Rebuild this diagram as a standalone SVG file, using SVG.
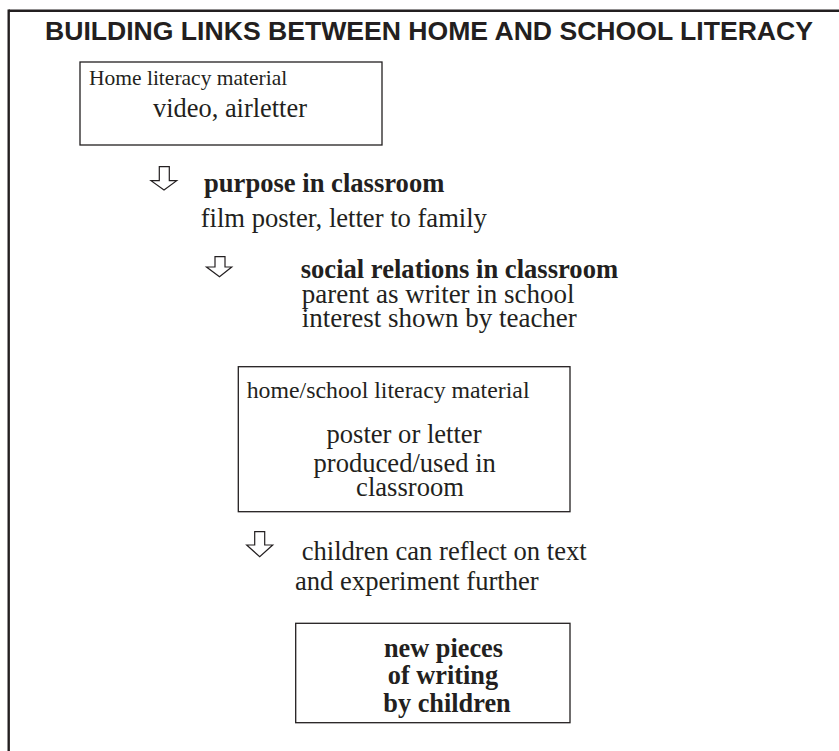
<svg xmlns="http://www.w3.org/2000/svg" width="839" height="751" viewBox="0 0 839 751">
  <style>
    .frame { stroke: #231f20; stroke-width: 2.4; fill: none; }
    .box { fill: none; stroke: #231f20; stroke-width: 1.3; }
    .title { font-family: "Liberation Sans", Arial, sans-serif; font-weight: bold; font-size: 25.5px; fill: #231f20; }
    .t { font-family: "Liberation Serif", "Times New Roman", serif; fill: #231f20; }
    .b { font-weight: bold; }
    .arrow { fill: #ffffff; stroke: #231f20; stroke-width: 1.2; stroke-linejoin: miter; }
  </style>

  <rect x="0" y="0" width="839" height="751" fill="#ffffff"/>

  <!-- page frame: top and left rules only -->
  <g id="frame">
    <line class="frame" x1="8.7" y1="10.7" x2="839" y2="10.7"/>
    <line class="frame" x1="8.7" y1="9.5" x2="8.7" y2="751"/>
  </g>

  <text id="title" class="title" x="45" y="40" textLength="768" lengthAdjust="spacingAndGlyphs">BUILDING LINKS BETWEEN HOME AND SCHOOL LITERACY</text>

  <g id="home-material">
    <rect class="box" x="80" y="62" width="302" height="83"/>
    <text class="t" x="89" y="85" font-size="21.5">Home literacy material</text>
    <text class="t" x="230" y="117" font-size="26.4" text-anchor="middle">video, airletter</text>
  </g>

  <g id="purpose">
    <text class="t b" x="204" y="191.5" font-size="26.6">purpose in classroom</text>
    <text class="t" x="200.7" y="226.5" font-size="26.6">film poster, letter to family</text>
  </g>

  <g id="social-relations">
    <text class="t b" x="300.7" y="278" font-size="26.6">social relations in classroom</text>
    <text class="t" x="301.7" y="303" font-size="27">parent as writer in school</text>
    <text class="t" x="301.7" y="327" font-size="27">interest shown by teacher</text>
  </g>

  <g id="home-school-material">
    <rect class="box" x="238.3" y="366.7" width="331.7" height="145"/>
    <text class="t" x="246.7" y="398.3" font-size="23.8">home/school literacy material</text>
    <text class="t" x="404" y="443.3" font-size="26.6" text-anchor="middle">poster or letter</text>
    <text class="t" x="404.7" y="471.7" font-size="26.6" text-anchor="middle">produced/used in</text>
    <text class="t" x="410" y="495.7" font-size="26.6" text-anchor="middle">classroom</text>
  </g>

  <g id="reflection">
    <text class="t" x="301.7" y="560" font-size="26.6">children can reflect on text</text>
    <text class="t" x="295" y="590" font-size="26.6">and experiment further</text>
  </g>

  <g id="new-writing">
    <rect class="box" x="295.7" y="623.3" width="274.3" height="99.4"/>
    <text class="t b" x="443.5" y="656.7" font-size="26.3" text-anchor="middle">new pieces</text>
    <text class="t b" x="443" y="684.3" font-size="26.3" text-anchor="middle">of writing</text>
    <text class="t b" x="447" y="711.7" font-size="26.3" text-anchor="middle">by children</text>
  </g>

  <!-- hollow down-arrows linking the stages -->
  <g id="connectors">
    <polygon class="arrow" points="159.3,166.7 169.3,166.7 169.3,180.7 176.7,180.7 164,190 151,180.7 159.3,180.7"/>
    <polygon class="arrow" points="215,256.7 225,256.7 225,267 231.7,267 219.5,276.7 206.5,267 215,267"/>
    <polygon class="arrow" points="254.7,531.7 264.7,531.7 264.7,545 272.7,545 259.7,556.7 246.7,545 254.7,545"/>
  </g>
</svg>
